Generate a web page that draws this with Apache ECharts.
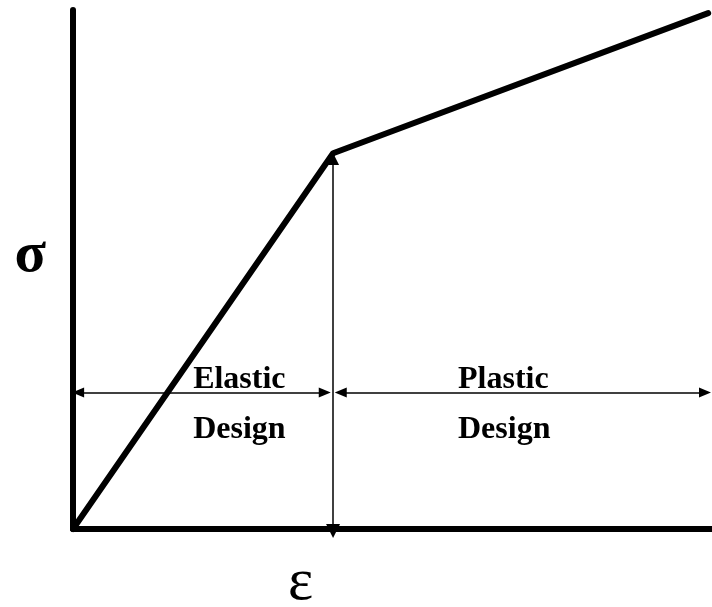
<!DOCTYPE html>
<html>
<head>
<meta charset="utf-8">
<script src="https://cdn.jsdelivr.net/npm/echarts@6/dist/echarts.min.js"></script>
<style>
html, body { margin: 0; padding: 0; background: #fff; }
#chart { width: 712px; height: 607px; }
</style>
</head>
<body>
<div id="chart"></div>
<script>
// stress-strain curve (bilinear), arbitrary units
var strain = [0, 40.7, 99.4];
var stress = [0, 72.4, 99.4];
var yieldStrain = 40.7;
var arrowLevel = 26.3;
// dimension arrows: [from, to] in strain units (horizontal) and stress units (vertical)
var elasticSpan = [0.8, 39.4];
var plasticSpan = [41.9, 98.9];
var dropSpan = [71.3, -0.4];
var regionLabels = ['Elastic\nDesign', 'Plastic\nDesign'];
var labelX = [18.8, 60.25];
var labelY = 23.9;

var chart = echarts.init(document.getElementById('chart'));

var curve = [];
for (var i = 0; i < strain.length; i++) {
    curve.push([strain[i], stress[i]]);
}
var labels = [];
for (var j = 0; j < regionLabels.length; j++) {
    labels.push({ value: [labelX[j], labelY], name: regionLabels[j] });
}

var option = {
    animation: false,
    backgroundColor: '#fff',
    grid: { left: 73, right: 0, top: 10, bottom: 78, outerBoundsMode: 'none', containLabel: false },
    xAxis: {
        type: 'value',
        min: 0,
        max: 100,
        name: 'ε',
        nameLocation: 'middle',
        nameGap: 24,
        nameTextStyle: { fontFamily: 'Liberation Serif', fontSize: 60, color: '#000', padding: [0, 184, 0, 0] },
        axisLine: { lineStyle: { color: '#000', width: 6, cap: 'round' } },
        axisTick: { show: false },
        axisLabel: { show: false },
        splitLine: { show: false }
    },
    yAxis: {
        type: 'value',
        min: 0,
        max: 100,
        name: 'σ\n',
        nameLocation: 'middle',
        nameRotate: 0,
        nameGap: 27,
        nameTextStyle: { fontFamily: 'Liberation Serif', fontWeight: 'bold', fontSize: 58, lineHeight: 26, color: '#000' },
        axisLine: { lineStyle: { color: '#000', width: 6, cap: 'round' } },
        axisTick: { show: false },
        axisLabel: { show: false },
        splitLine: { show: false }
    },
    series: [
        {
            type: 'line',
            data: curve,
            symbol: 'none',
            clip: false,
            z: 3,
            lineStyle: { color: '#000', width: 6, cap: 'round', join: 'round' },
            markLine: {
                silent: true,
                symbol: ['triangle', 'triangle'],
                symbolSize: [10, 12],
                label: { show: false },
                lineStyle: { color: '#000', width: 1.5, type: 'solid' },
                data: [
                    [{ coord: [elasticSpan[0], arrowLevel] }, { coord: [elasticSpan[1], arrowLevel] }],
                    [{ coord: [plasticSpan[0], arrowLevel] }, { coord: [plasticSpan[1], arrowLevel] }]
                ]
            }
        },
        {
            type: 'lines',
            coordinateSystem: 'cartesian2d',
            clip: false,
            z: 4,
            symbol: ['triangle', 'triangle'],
            symbolSize: [12, 14],
            lineStyle: { color: '#000', width: 1.5, opacity: 1 },
            data: [{ coords: [[yieldStrain, dropSpan[0]], [yieldStrain, dropSpan[1]]] }]
        },
        {
            type: 'scatter',
            data: labels,
            symbolSize: 0,
            z: 5,
            itemStyle: { opacity: 1 },
            label: {
                show: true,
                position: 'right',
                distance: 0,
                formatter: '{b}',
                align: 'left',
                verticalAlign: 'middle',
                fontFamily: 'Liberation Serif',
                fontWeight: 'bold',
                fontSize: 32,
                lineHeight: 50,
                color: '#000'
            }
        }
    ]
};
chart.setOption(option, true);
</script>
</body>
</html>
